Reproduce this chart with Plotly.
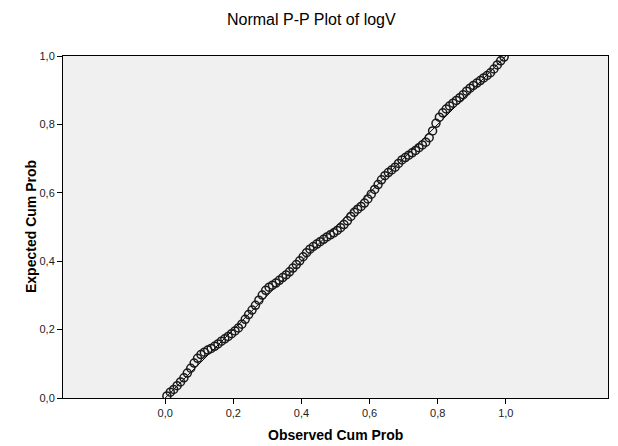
import plotly.graph_objects as go

# Observed cumulative probability (x) and expected cumulative probability (y)
observed = [0.005, 0.015, 0.025, 0.035, 0.045, 0.055, 0.065, 0.075, 0.085, 0.095,
            0.105, 0.115, 0.125, 0.135, 0.145, 0.155, 0.165, 0.175, 0.185, 0.195,
            0.205, 0.215, 0.225, 0.235, 0.245, 0.255, 0.265, 0.275, 0.285, 0.295,
            0.305, 0.315, 0.325, 0.335, 0.345, 0.355, 0.365, 0.375, 0.385, 0.395,
            0.405, 0.415, 0.425, 0.435, 0.445, 0.455, 0.465, 0.475, 0.485, 0.495,
            0.505, 0.515, 0.525, 0.535, 0.545, 0.555, 0.565, 0.575, 0.585, 0.595,
            0.605, 0.615, 0.625, 0.635, 0.645, 0.655, 0.665, 0.675, 0.685, 0.695,
            0.705, 0.715, 0.725, 0.735, 0.745, 0.755, 0.765, 0.775, 0.785, 0.795,
            0.805, 0.815, 0.825, 0.835, 0.845, 0.855, 0.865, 0.875, 0.885, 0.895,
            0.905, 0.915, 0.925, 0.935, 0.945, 0.955, 0.965, 0.975, 0.985, 0.995]
expected = [0.006, 0.017, 0.025, 0.036, 0.047, 0.059, 0.073, 0.087, 0.102, 0.116,
            0.127, 0.134, 0.140, 0.145, 0.151, 0.158, 0.166, 0.173, 0.180, 0.188,
            0.196, 0.205, 0.216, 0.230, 0.244, 0.257, 0.271, 0.286, 0.301, 0.315,
            0.324, 0.330, 0.336, 0.344, 0.352, 0.360, 0.369, 0.380, 0.390, 0.401,
            0.413, 0.425, 0.435, 0.443, 0.450, 0.457, 0.464, 0.471, 0.477, 0.483,
            0.490, 0.498, 0.507, 0.518, 0.531, 0.543, 0.552, 0.560, 0.570, 0.582,
            0.596, 0.610, 0.624, 0.638, 0.650, 0.659, 0.667, 0.675, 0.686, 0.696,
            0.703, 0.710, 0.717, 0.724, 0.732, 0.740, 0.748, 0.761, 0.781, 0.803,
            0.821, 0.834, 0.845, 0.854, 0.862, 0.870, 0.878, 0.887, 0.897, 0.906,
            0.914, 0.921, 0.928, 0.936, 0.943, 0.951, 0.962, 0.974, 0.986, 0.997]

ref_line = [0.0, 1.0]
tick_vals = [0.0, 0.2, 0.4, 0.6, 0.8, 1.0]
tick_text = ["0,0", "0,2", "0,4", "0,6", "0,8", "1,0"]

FONT = "Liberation Sans, Arial, sans-serif"

fig = go.Figure()
fig.add_trace(go.Scatter(x=ref_line, y=ref_line, mode="lines",
                         line=dict(color="black", width=1), hoverinfo="skip"))
fig.add_trace(go.Scatter(x=observed, y=expected, mode="markers",
                         marker=dict(symbol="circle-open", size=8, color="#1a1a1a",
                                     line=dict(color="#1a1a1a", width=1.5))))

fig.update_layout(
    width=618, height=446,
    margin=dict(l=63, r=10, t=56, b=48),
    paper_bgcolor="white", plot_bgcolor="#f0f0f0",
    showlegend=False,
    font=dict(family=FONT, size=11, color="#222"),
    annotations=[
        dict(text="Normal P-P Plot of logV", xref="paper", yref="paper",
             x=(311 - 63) / 545, y=(398 - 20) / 342, xanchor="center", yanchor="middle",
             showarrow=False, font=dict(family=FONT, size=16, color="black")),
        dict(text="<b>Observed Cum Prob</b>", xref="paper", yref="paper",
             x=0.5, y=-37 / 342, xanchor="center", yanchor="middle",
             showarrow=False, font=dict(family=FONT, size=14, color="black")),
        dict(text="<b>Expected Cum Prob</b>", xref="paper", yref="paper",
             x=(31 - 63) / 545, y=0.5, xanchor="center", yanchor="middle",
             textangle=-90, showarrow=False,
             font=dict(family=FONT, size=14, color="black")),
    ],
)
fig.update_xaxes(range=[-0.3, 1.3], tickvals=tick_vals, ticktext=tick_text,
                 ticks="outside", ticklen=5, tickcolor="black",
                 showline=True, linecolor="black", linewidth=1, mirror=True,
                 showgrid=False, zeroline=False)
fig.update_yaxes(range=[0, 1], tickvals=tick_vals, ticktext=tick_text,
                 ticks="outside", ticklen=5, tickcolor="black",
                 showline=True, linecolor="black", linewidth=1, mirror=True,
                 showgrid=False, zeroline=False)

fig.write_html("out.html")
